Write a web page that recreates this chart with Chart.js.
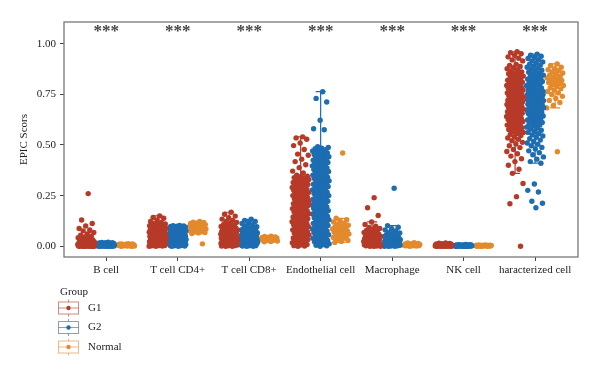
<!DOCTYPE html>
<html><head><meta charset="utf-8">
<script src="https://cdn.jsdelivr.net/npm/chart.js@4.4.1/dist/chart.umd.min.js"></script>
<style>html,body{margin:0;padding:0;background:#fff}#wrap{width:600px;height:376px}</style>
</head><body><div id="wrap"><canvas id="c" width="600" height="376"></canvas></div>
<script>
const categories = ["B cell","T cell CD4+","T cell CD8+","Endothelial cell","Macrophage","NK cell","haracterized cell"];
const groups = ["G1","G2","Normal"];
const signif = ["***","***","***","***","***","***","***"];
const yTicks = [0, 0.25, 0.5, 0.75, 1.0];

// B cell
const bG1 = [.26,.13,.112,.1,.088,.081,.076,.068,.061,.055,.05,.046,.042,.038,.034,.031,.029,.027,.025,.023,.021,.02,.019,.017,.016,.015,.014,.013,.012,.011,.011,.01,.009,.009,.008,.008,.007,.007,.006,.006,.005,.005,.005,.004,.004,.004,.003,.003,.003,.002,.002,.002,.002,.001,.001,.001,.001,0,0,0,0,0,0];
const bG2 = [.02,.019,.018,.017,.016,.015,.015,.014,.013,.012,.012,.011,.01,.01,.01,.009,.009,.008,.008,.007,.007,.007,.006,.006,.006,.005,.005,.005,.004,.004,.004,.004,.003,.003,.003,.003,.002,.002,.002,.002,.001,.001,.001,0,0,0,0,0];
const bN = [.013,.012,.011,.01,.01,.009,.008,.008,.007,.007,.006,.006,.005,.005,.004,.004,.003,.003,.002,.002,.001,.001,0,0];
// T cell CD4+
const c4G1 = [.15,.142,.138,.13,.122,.118,.113,.11,.108,.106,.104,.103,.101,.1,.099,.097,.095,.094,.092,.09,.089,.088,.086,.084,.083,.081,.079,.078,.077,.075,.073,.072,.071,.069,.067,.066,.065,.063,.061,.06,.059,.057,.055,.054,.053,.051,.049,.048,.047,.046,.044,.042,.041,.039,.038,.037,.035,.034,.033,.032,.03,.029,.028,.027,.025,.024,.023,.022,.021,.019,.018,.017,.016,.015,.013,.012,.011,.01,.009,.008,.007,.006,.005,.004,.003,.002,.001,0,0];
const c4G2 = [.103,.101,.1,.099,.098,.097,.095,.094,.093,.091,.09,.089,.088,.086,.085,.084,.082,.081,.08,.079,.077,.076,.075,.073,.072,.071,.07,.068,.067,.066,.065,.063,.062,.061,.059,.058,.057,.056,.054,.053,.052,.051,.049,.048,.047,.046,.044,.043,.042,.041,.039,.038,.037,.036,.034,.033,.032,.031,.029,.028,.027,.026,.025,.023,.022,.021,.02,.019,.017,.016,.015,.014,.013,.012,.01,.009,.008,.007,.006,.005,.004,.003,.002,.001,0,0];
const c4N = [.122,.119,.117,.115,.113,.111,.109,.107,.105,.104,.102,.1,.099,.097,.095,.094,.092,.09,.088,.086,.085,.083,.081,.079,.077,.075,.072,.07,.068,.066,.063,.012];
// T cell CD8+
const c8G1 = [.168,.158,.149,.141,.134,.128,.122,.118,.113,.108,.104,.1,.098,.095,.093,.091,.089,.087,.085,.083,.081,.08,.078,.076,.074,.073,.071,.069,.068,.066,.064,.063,.061,.06,.058,.057,.055,.054,.052,.051,.049,.048,.046,.045,.044,.042,.041,.039,.038,.037,.035,.034,.033,.031,.03,.029,.027,.026,.025,.024,.022,.021,.02,.019,.018,.016,.015,.014,.013,.012,.011,.01,.009,.008,.007,.006,.005,.004,.003,.002,.001,0,0];
const c8G2 = [.133,.128,.122,.117,.112,.106,.101,.096,.092,.088,.085,.083,.081,.079,.077,.075,.073,.071,.069,.067,.066,.064,.062,.061,.059,.058,.056,.055,.053,.052,.05,.049,.047,.046,.045,.043,.042,.041,.039,.038,.037,.035,.034,.033,.032,.03,.029,.028,.027,.026,.024,.023,.022,.021,.02,.018,.017,.016,.015,.014,.013,.012,.011,.01,.009,.008,.007,.006,.005,.004,.003,.002,.001,0,0];
const c8N = [.05,.048,.046,.045,.044,.043,.042,.041,.04,.039,.038,.037,.036,.035,.034,.033,.032,.031,.03,.028,.026,.024,.022];
// Endothelial cell
const enG1 = [.54,.535,.528,.51,.497,.478,.455,.449,.43,.418,.402,.388,.371,.362,.351,.346,.343,.339,.337,.333,.33,.326,.324,.321,.317,.315,.311,.308,.305,.303,.299,.296,.293,.29,.287,.284,.28,.278,.275,.271,.269,.265,.262,.259,.257,.253,.25,.247,.244,.241,.238,.234,.232,.229,.225,.223,.219,.216,.214,.21,.207,.204,.201,.198,.195,.191,.189,.186,.182,.18,.176,.173,.17,.168,.164,.161,.158,.155,.152,.149,.145,.143,.14,.136,.134,.13,.127,.125,.121,.118,.115,.112,.109,.106,.102,.1,.097,.093,.091,.087,.084,.081,.079,.075,.072,.069,.066,.063,.06,.056,.054,.051,.047,.045,.041,.038,.035,.033,.029,.026,.023,.021,.017,.014,.011,.009,.006,.003,.001,0];
const enG2 = [.763,.73,.712,.622,.58,.575,.491,.488,.484,.481,.477,.474,.47,.467,.463,.46,.456,.453,.449,.446,.442,.439,.435,.432,.428,.425,.421,.418,.414,.411,.407,.404,.4,.397,.393,.39,.386,.383,.379,.376,.372,.369,.365,.362,.358,.355,.351,.348,.344,.341,.337,.334,.33,.327,.323,.32,.316,.313,.309,.306,.302,.299,.295,.292,.288,.285,.281,.278,.274,.271,.267,.264,.26,.257,.253,.25,.246,.243,.239,.236,.232,.229,.225,.222,.218,.215,.211,.208,.204,.201,.197,.194,.19,.187,.183,.18,.176,.173,.169,.166,.162,.159,.155,.152,.148,.145,.141,.138,.134,.131,.127,.124,.12,.117,.113,.11,.106,.103,.099,.096,.092,.089,.085,.082,.078,.075,.071,.068,.064,.061,.057,.054,.05,.047,.043,.04,.036,.033,.029,.026,.022,.019,.015,.012,.008,.005,.002,0];
const enN = [.46,.138,.131,.125,.12,.114,.109,.104,.1,.096,.092,.088,.085,.082,.079,.076,.073,.07,.067,.064,.061,.058,.055,.051,.047,.043,.039,.034,.029,.024,.019];
// Macrophage
const maG1 = [.24,.19,.152,.12,.108,.099,.093,.088,.083,.079,.075,.071,.068,.065,.062,.06,.057,.055,.052,.05,.048,.046,.044,.042,.04,.038,.036,.034,.032,.031,.029,.027,.026,.024,.022,.021,.019,.018,.016,.015,.013,.012,.011,.01,.009,.008,.007,.006,.005,.004,.003,.002,.001,0,0,0];
const maG2 = [.286,.102,.094,.087,.081,.075,.07,.066,.062,.058,.055,.052,.049,.047,.045,.043,.041,.039,.037,.035,.033,.031,.03,.028,.026,.025,.023,.022,.02,.019,.017,.016,.015,.013,.012,.011,.01,.009,.008,.007,.006,.005,.004,.003,.002,.001,0,0,0];
const maN = [.018,.016,.014,.013,.012,.011,.01,.009,.008,.007,.006,.006,.005,.004,.004,.003,.002,.002,.001,0];
// NK cell
const nkG1 = [.016,.015,.014,.013,.012,.012,.011,.01,.01,.009,.009,.008,.008,.007,.007,.007,.006,.006,.006,.005,.005,.005,.004,.004,.004,.003,.003,.003,.003,.002,.002,.002,.002,.001,.001,.001,.001,0,0,0,0,0];
const nkG2 = [.009,.008,.008,.007,.007,.006,.006,.006,.005,.005,.005,.004,.004,.004,.004,.003,.003,.003,.003,.002,.002,.002,.002,.002,.001,.001,.001,.001,.001,0,0,0,0,0,0];
const nkN = [.006,.006,.005,.005,.005,.004,.004,.004,.003,.003,.003,.002,.002,.002,.001,.001,.001,0,0,0];
// uncharacterized cell
const chG1 = [.96,.955,.95,.943,.935,.928,.92,.915,.898,.893,.887,.881,.876,.871,.866,.861,.856,.852,.848,.844,.84,.836,.832,.828,.824,.82,.817,.813,.81,.806,.803,.8,.797,.794,.791,.788,.785,.782,.779,.776,.773,.77,.767,.765,.762,.759,.757,.754,.751,.748,.745,.743,.74,.737,.735,.732,.729,.727,.724,.721,.719,.716,.713,.711,.708,.705,.703,.7,.697,.694,.692,.689,.686,.684,.681,.678,.675,.672,.67,.667,.664,.661,.658,.656,.653,.65,.647,.644,.641,.638,.635,.632,.629,.626,.622,.619,.616,.612,.609,.605,.602,.598,.594,.59,.585,.581,.576,.572,.567,.562,.557,.552,.547,.541,.535,.528,.521,.513,.505,.496,.487,.478,.468,.457,.445,.432,.418,.4,.38,.36,.31,.245,.21,0];
const chG2 = [.948,.943,.938,.932,.927,.921,.915,.91,.904,.899,.894,.889,.884,.879,.874,.869,.864,.859,.854,.849,.845,.841,.837,.833,.829,.825,.821,.817,.813,.809,.805,.801,.797,.793,.789,.786,.782,.778,.775,.771,.767,.764,.76,.757,.753,.75,.747,.743,.74,.736,.733,.729,.726,.722,.719,.715,.712,.708,.705,.701,.698,.694,.691,.687,.684,.68,.676,.673,.669,.665,.662,.658,.654,.651,.647,.643,.639,.635,.631,.627,.623,.619,.615,.611,.606,.602,.598,.593,.588,.583,.578,.573,.567,.562,.556,.55,.544,.538,.531,.524,.517,.51,.503,.496,.488,.48,.471,.462,.452,.441,.43,.418,.41,.307,.276,.268,.222,.212,.19,.812,.806,.796,.791,.784,.779,.774,.769,.764,.758,.754,.749,.744,.739,.734,.731,.724,.718,.714,.709,.703,.699,.693,.688,.684,.679,.674,.671,.664,.659];
const chN = [.9,.892,.884,.877,.871,.866,.86,.855,.85,.845,.84,.836,.831,.827,.822,.818,.813,.808,.804,.799,.794,.789,.783,.777,.771,.764,.757,.749,.74,.73,.72,.71,.695,.683,.467];

const seriesG1 = [bG1, c4G1, c8G1, enG1, maG1, nkG1, chG1];
const seriesG2 = [bG2, c4G2, c8G2, enG2, maG2, nkG2, chG2];
const seriesN  = [bN,  c4N,  c8N,  enN,  maN,  nkN,  chN];
const seriesByGroup = [seriesG1, seriesG2, seriesN];

const colors = ['#B73A28', '#1D6DB2', '#E38A2C'];
const groupOffset = [-0.28, 0, 0.28];
const jitterHalf = 0.12;

function jit(i){ return (((i + 1) * 0.6180339887) % 1 - 0.5) * 2 * jitterHalf; }

const datasets = groups.map((g, gi) => ({
  label: g,
  data: seriesByGroup[gi].flatMap((vals, ci) => vals.map((v, i) => ({x: ci + 1 + groupOffset[gi] + jit(i), y: v}))),
  backgroundColor: colors[gi],
  borderColor: colors[gi],
  borderWidth: 0,
  pointRadius: 2.7,
  pointHoverRadius: 2.7
}));

function quant(sorted, p){
  const idx = (sorted.length - 1) * p, lo = Math.floor(idx), hi = Math.ceil(idx);
  return sorted[lo] + (sorted[hi] - sorted[lo]) * (idx - lo);
}

const boxPlugin = {
  id: 'boxes',
  beforeDatasetsDraw(chart){
    const ctx = chart.ctx, xs = chart.scales.x, ys = chart.scales.y;
    ctx.save();
    seriesByGroup.forEach((list, gi) => {
      list.forEach((vals, ci) => {
        const s = vals.slice().sort((a,b)=>a-b);
        const q1 = quant(s,.25), q3 = quant(s,.75), iqr = q3-q1;
        const lo = s.find(v => v >= q1 - 1.5*iqr), hi = s.slice().reverse().find(v => v <= q3 + 1.5*iqr);
        const xc = xs.getPixelForValue(ci + 1 + groupOffset[gi]);
        const cw = xs.getPixelForValue(1.07) - xs.getPixelForValue(1);
        ctx.strokeStyle = colors[gi]; ctx.lineWidth = 1.2;
        ctx.beginPath();
        ctx.moveTo(xc, ys.getPixelForValue(lo)); ctx.lineTo(xc, ys.getPixelForValue(q1));
        ctx.moveTo(xc, ys.getPixelForValue(q3)); ctx.lineTo(xc, ys.getPixelForValue(hi));
        ctx.moveTo(xc-cw, ys.getPixelForValue(lo)); ctx.lineTo(xc+cw, ys.getPixelForValue(lo));
        ctx.moveTo(xc-cw, ys.getPixelForValue(hi)); ctx.lineTo(xc+cw, ys.getPixelForValue(hi));
        ctx.stroke();
      });
    });
    ctx.restore();
  },
  afterDraw(chart){
    const ctx = chart.ctx, a = chart.chartArea, xs = chart.scales.x;
    ctx.save();
    ctx.strokeStyle = '#777'; ctx.lineWidth = 1.3;
    ctx.strokeRect(a.left, a.top, a.right - a.left, a.bottom - a.top);
    ctx.fillStyle = '#444'; ctx.font = 'bold 17px "Liberation Serif"';
    ctx.textAlign = 'center'; ctx.textBaseline = 'top';
    signif.forEach((s, ci) => ctx.fillText(s, xs.getPixelForValue(ci + 1), a.top + 1));
    ctx.font = '11px "Liberation Serif"'; ctx.fillStyle = '#222';
    ctx.textAlign = 'left'; ctx.textBaseline = 'middle';
    ctx.fillText('Group', 60, 292);
    groups.forEach((g, i) => {
      const cy = 308 + i * 19.5, cx = 68.5;
      ctx.globalAlpha = 0.6; ctx.strokeStyle = colors[i]; ctx.lineWidth = 1;
      ctx.strokeRect(58.5, cy - 6, 20, 12);
      ctx.beginPath();
      ctx.moveTo(cx, cy - 8.5); ctx.lineTo(cx, cy - 6);
      ctx.moveTo(cx, cy + 6); ctx.lineTo(cx, cy + 8.5);
      ctx.moveTo(58.5, cy); ctx.lineTo(78.5, cy);
      ctx.stroke();
      ctx.globalAlpha = 1; ctx.fillStyle = colors[i];
      ctx.beginPath(); ctx.arc(cx, cy, 2.2, 0, Math.PI*2); ctx.fill();
      ctx.fillStyle = '#222';
      ctx.fillText(g, 88, cy);
    });
    ctx.restore();
  }
};

new Chart(document.getElementById('c'), {
  type: 'scatter',
  data: { datasets },
  options: {
    responsive: false, animation: false, devicePixelRatio: 1,
    layout: { padding: { top: 22, right: 22, left: 0, bottom: 0 } },
    plugins: { legend: { display: false }, tooltip: { enabled: false } },
    scales: {
      x: {
        type: 'linear', min: 0.41, max: 7.6,
        afterBuildTicks: s => { s.ticks = categories.map((c, i) => ({ value: i + 1 })); },
        afterFit: s => { s.height = 119; },
        ticks: { callback: v => categories[v - 1], font: { family: 'Liberation Serif', size: 11 }, color: '#222', padding: 3, maxRotation: 0, autoSkip: false },
        grid: { drawOnChartArea: false, drawTicks: true, tickLength: 4, color: '#444' },
        border: { display: false }
      },
      y: {
        min: -0.053, max: 1.107,
        afterBuildTicks: s => { s.ticks = yTicks.map(v => ({ value: v })); },
        afterFit: s => { s.width = 64; },
        ticks: { callback: v => v.toFixed(2), font: { family: 'Liberation Serif', size: 11 }, color: '#222', padding: 4 },
        grid: { drawOnChartArea: false, drawTicks: true, tickLength: 4, color: '#444' },
        border: { display: false },
        title: { display: true, text: 'EPIC Scors', font: { family: 'Liberation Serif', size: 11 }, color: '#222', padding: { top: 18, bottom: 0 } }
      }
    }
  },
  plugins: [boxPlugin]
});
</script></body></html>
